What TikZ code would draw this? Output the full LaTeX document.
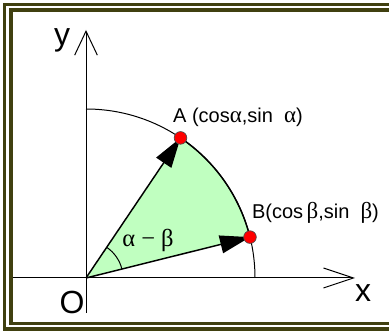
\documentclass[tikz,border=0pt]{standalone}
\usepackage{fontspec}
\setmainfont{Liberation Sans}
\newfontfamily\grk[Scale=1.15]{Liberation Serif}
\usetikzlibrary{arrows.meta,positioning}
\definecolor{framecol}{RGB}{64,64,16}
\definecolor{sectorcol}{RGB}{192,255,192}
\definecolor{dotcol}{RGB}{255,0,0}

\begin{document}
\begin{tikzpicture}[x=0.75pt, y=0.75pt,
    frameline/.style={draw=framecol, line width=2.4pt},
    axis/.style={line width=0.75pt},
    vec/.style={line width=1.1pt, -{Triangle[length=22.5pt, width=13.5pt]}},
    dot/.style={circle, fill=dotcol, draw=black!70, line width=0.5pt, inner sep=0pt, minimum size=9.5pt},
    biglbl/.style={font=\fontsize{24}{24}\selectfont, inner sep=0pt},
    ptlbl/.style={font=\fontsize{15}{15}\selectfont, inner sep=0pt}
  ]
  \clip (0,0) rectangle (389,331);
  \fill[white] (0,0) rectangle (389,331);
  % double frame
  \draw[frameline] (4.5,2) rectangle (400,326.5);
  \draw[frameline] (11,7.5) rectangle (400,321);
  % points on the unit circle
  \coordinate (O) at (86,53);
  \coordinate (A) at ([shift={(56:169)}]O);
  \coordinate (B) at ([shift={(14:169)}]O);
  \coordinate (xl) at (13,53);
  \coordinate (xr) at (355,53);
  \coordinate (yb) at (86,18);
  \coordinate (yt) at (86,301);
  % sector AOB
  \fill[sectorcol] (O) -- (A) arc[start angle=56, end angle=14, radius=169] -- cycle;
  \draw[axis] ([shift={(90:169)}]O) arc[start angle=90, end angle=0, radius=169];
  \draw[line width=1.1pt] (A) arc[start angle=56, end angle=14, radius=169];
  % axes
  \draw[axis, -{Straight Barb[length=22.5pt, width=15pt]}] (xl) -- (xr);
  \draw[axis, -{Straight Barb[length=18pt, width=17pt]}] (yb) -- (yt);
  % angle mark
  \draw[axis] ([shift={(14:37)}]O) arc[start angle=14, end angle=56, radius=37];
  % vectors
  \draw[vec] (O) -- (A);
  \draw[vec] (O) -- (B);
  \node[dot] (Adot) at (A) {};
  \node[dot] (Bdot) at (B) {};
  % labels
  \node[ptlbl] (Alab) at (238,214) {A (cos{\grk α},sin\ \ {\grk α})};
  \node[ptlbl] (Blab) at (315.5,118) {B(cos\,{\grk β},sin\ \ {\grk β})};
  \node[font=\grk\fontsize{16}{16}\selectfont, inner sep=0pt] (ang) at (148,91) {α − β};
  \node[biglbl] (Olab) at (72,29) {O};
  \node[biglbl] (xlab) at (363,38) {x};
  \node[biglbl] (ylab) at (62,291) {y};
\end{tikzpicture}
\end{document}
